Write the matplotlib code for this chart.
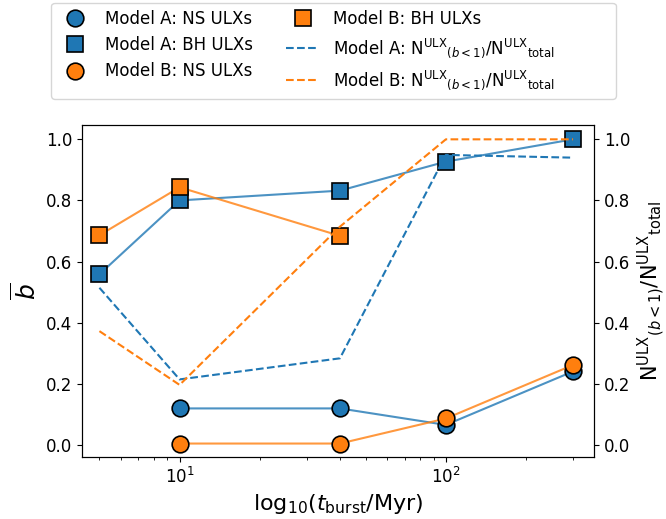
import numpy as np
import matplotlib
matplotlib.use("Agg")
import matplotlib.pyplot as plt

t_burst = [5, 10, 40, 100, 300]
nan = np.nan
a_ns = [nan, 0.119, 0.119, 0.065, 0.240]
a_bh = [0.558, 0.800, 0.832, 0.927, 1.000]
b_ns = [nan, 0.004, 0.004, 0.086, 0.261]
b_bh = [0.686, 0.843, 0.684, nan, nan]
a_frac = [0.514, 0.214, 0.283, 0.949, 0.940]
b_frac = [0.372, 0.196, 0.714, 1.000, 1.000]

blue = '#1f77b4'
orange = '#ff7f0e'
pad = '\u00a0' * 11

fig = plt.figure(figsize=(6.66, 5.19), dpi=100)
ax = fig.add_axes([0.1231, 0.1195, 0.7688, 0.6397])
ax.set_xscale('log')

def finite(x, y):
    x = np.asarray(x, float); y = np.asarray(y, float)
    m = np.isfinite(y)
    return x[m], y[m]

for y, c in [(a_ns, blue), (a_bh, blue), (b_ns, orange), (b_bh, orange)]:
    xx, yy = finite(t_burst, y)
    ax.plot(xx, yy, '-', color=c, alpha=0.8, lw=1.5, zorder=1)

h1, = ax.plot(t_burst, a_ns, 'o', ls='none', color=blue, mec='k', ms=12, mew=1.2, zorder=2, label='Model A: NS ULXs')
h2, = ax.plot(t_burst, a_bh, 's', ls='none', color=blue, mec='k', ms=12, mew=1.2, zorder=2, label='Model A: BH ULXs')
h3, = ax.plot(t_burst, b_ns, 'o', ls='none', color=orange, mec='k', ms=12, mew=1.2, zorder=3, label='Model B: NS ULXs')
h4, = ax.plot(t_burst, b_bh, 's', ls='none', color=orange, mec='k', ms=12, mew=1.2, zorder=3, label='Model B: BH ULXs' + pad)

ax2 = ax.twinx()
frac_lab = r'N$^{\rm ULX}$$_{(b<1)}$/N$^{\rm ULX}$$_{\rm total}$'
h5, = ax2.plot(t_burst, a_frac, '--', color=blue, lw=1.5, label='Model A: ' + frac_lab + pad)
h6, = ax2.plot(t_burst, b_frac, '--', color=orange, lw=1.5, label='Model B: ' + frac_lab + pad)

ax.set_ylim(-0.04, 1.047)
ax2.set_ylim(-0.04, 1.047)
ax.set_xlim(4.3, 360)
ax.set_yticks([0, 0.2, 0.4, 0.6, 0.8, 1.0])
ax2.set_yticks([0, 0.2, 0.4, 0.6, 0.8, 1.0])
ax.tick_params(labelsize=12)
ax2.tick_params(labelsize=12)

ax.set_xlabel(r'log$_{10}$($t_{\rm burst}$/Myr)', fontsize=16)
ax.set_ylabel(r'$\overline{b}$', fontsize=18)
ax2.set_ylabel(frac_lab, fontsize=15)

fig.legend(handles=[h1, h2, h3, h4, h5, h6], loc='upper center',
           bbox_to_anchor=(0.5008, 0.994), borderaxespad=0, ncol=2, fontsize=12)

fig.savefig('out.png', dpi=100)
